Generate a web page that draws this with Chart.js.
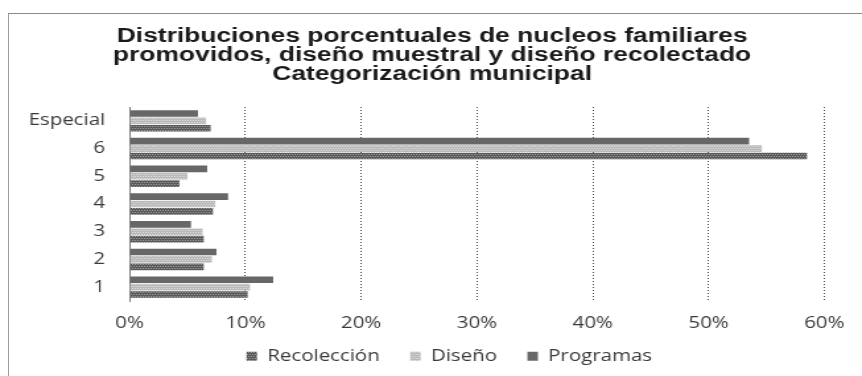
<!DOCTYPE html>
<html>
<head>
<meta charset="utf-8">
<script src="https://cdn.jsdelivr.net/npm/chart.js@4"></script>
<style>
  html, body { margin: 0; padding: 0; background: #fff; overflow: hidden; }
  #frame {
    position: absolute; left: 8px; top: 13px; width: 860px; height: 370px;
    border-top: 1px solid #8a8a8a; border-left: 1px solid #9a9a9a;
  }
  /* the printed chart is wider than its fonts, so the whole canvas is stretched */
  #wrap {
    position: absolute; left: 0; top: 0; width: 653px; height: 376px;
    transform: scaleX(1.32); transform-origin: 0 0;
  }
</style>
</head>
<body>
<div id="frame"></div>
<div id="wrap"><canvas id="chart"></canvas></div>
<script>
const categorias = ['Especial', '6', '5', '4', '3', '2', '1'];
const recoleccion = [7.0, 58.5, 4.3, 7.2, 6.4, 6.4, 10.2];
const diseno = [6.6, 54.6, 5.0, 7.4, 6.3, 7.1, 10.4];
const programas = [5.9, 53.5, 6.7, 8.5, 5.3, 7.5, 12.4];
const ticksX = [0, 10, 20, 30, 40, 50, 60];

// small pixel patterns to imitate the grey fills
function trama(c1, c2) {
  const p = document.createElement('canvas');
  p.width = 4; p.height = 4;
  const g = p.getContext('2d');
  g.fillStyle = c1; g.fillRect(0, 0, 4, 4);
  g.fillStyle = c2;
  g.fillRect(0, 0, 1, 1); g.fillRect(2, 0, 1, 1);
  g.fillRect(1, 2, 1, 1); g.fillRect(3, 2, 1, 1);
  return g.createPattern(p, 'repeat');
}

const fuente = "'Open Sans', sans-serif";

// the legend sits a bit to the right and closer to the axis labels
const correrLeyenda = {
  id: 'correrLeyenda',
  afterLayout(c) {
    const l = c.legend;
    l.left += 13; l.right += 13;
    l.top -= 11.5; l.bottom -= 11.5;
  }
};

new Chart(document.getElementById('chart'), {
  type: 'bar',
  data: {
    labels: categorias,
    datasets: [
      { label: 'Programas', data: programas, backgroundColor: '#676767' },
      { label: 'Diseño', data: diseno, backgroundColor: trama('#b9b9b9', '#dcdcdc') },
      { label: 'Recolección', data: recoleccion, backgroundColor: trama('#5a5a5a', '#9a9a9a') }
    ]
  },
  options: {
    indexAxis: 'y',
    responsive: true,
    maintainAspectRatio: false,
    animation: false,
    categoryPercentage: 0.8,
    barPercentage: 0.9,
    layout: { padding: { left: 21.7, right: 20, top: 0, bottom: -9.5 } },
    scales: {
      x: {
        min: 0,
        max: 60,
        afterBuildTicks: axis => { axis.ticks = ticksX.map(v => ({ value: v })); },
        afterFit: axis => { axis.height = 36; },
        grid: { color: '#4a4a4a', lineWidth: 1, drawTicks: false },
        border: { display: false, dash: [1, 2] },
        ticks: {
          padding: 13.2,
          color: '#3a3a3a',
          font: { family: fuente, size: 15.5 },
          callback: v => v + '%'
        }
      },
      y: {
        afterFit: axis => { axis.width = 76.5; },
        grid: { display: false, drawTicks: false },
        border: { display: true, color: '#7a7a7a', width: 1 },
        ticks: {
          padding: 18.5,
          color: '#3a3a3a',
          font: { family: fuente, size: 15.5 }
        }
      }
    },
    plugins: {
      title: {
        display: true,
        text: [
          'Distribuciones porcentuales de nucleos familiares',
          'promovidos, diseño muestral y diseño recolectado',
          'Categorización municipal'
        ],
        color: '#1a1a1a',
        font: { family: "'Liberation Sans', Arial, sans-serif", size: 20, weight: 'bold', lineHeight: 0.95 },
        padding: { top: 26.5, bottom: 23.5 }
      },
      legend: {
        position: 'bottom',
        reverse: true,
        labels: {
          boxWidth: 8,
          boxHeight: 9,
          padding: 23,
          color: '#3a3a3a',
          font: { family: fuente, size: 15.5 }
        }
      },
      tooltip: { enabled: false }
    }
  },
  plugins: [correrLeyenda]
});
</script>
</body>
</html>
